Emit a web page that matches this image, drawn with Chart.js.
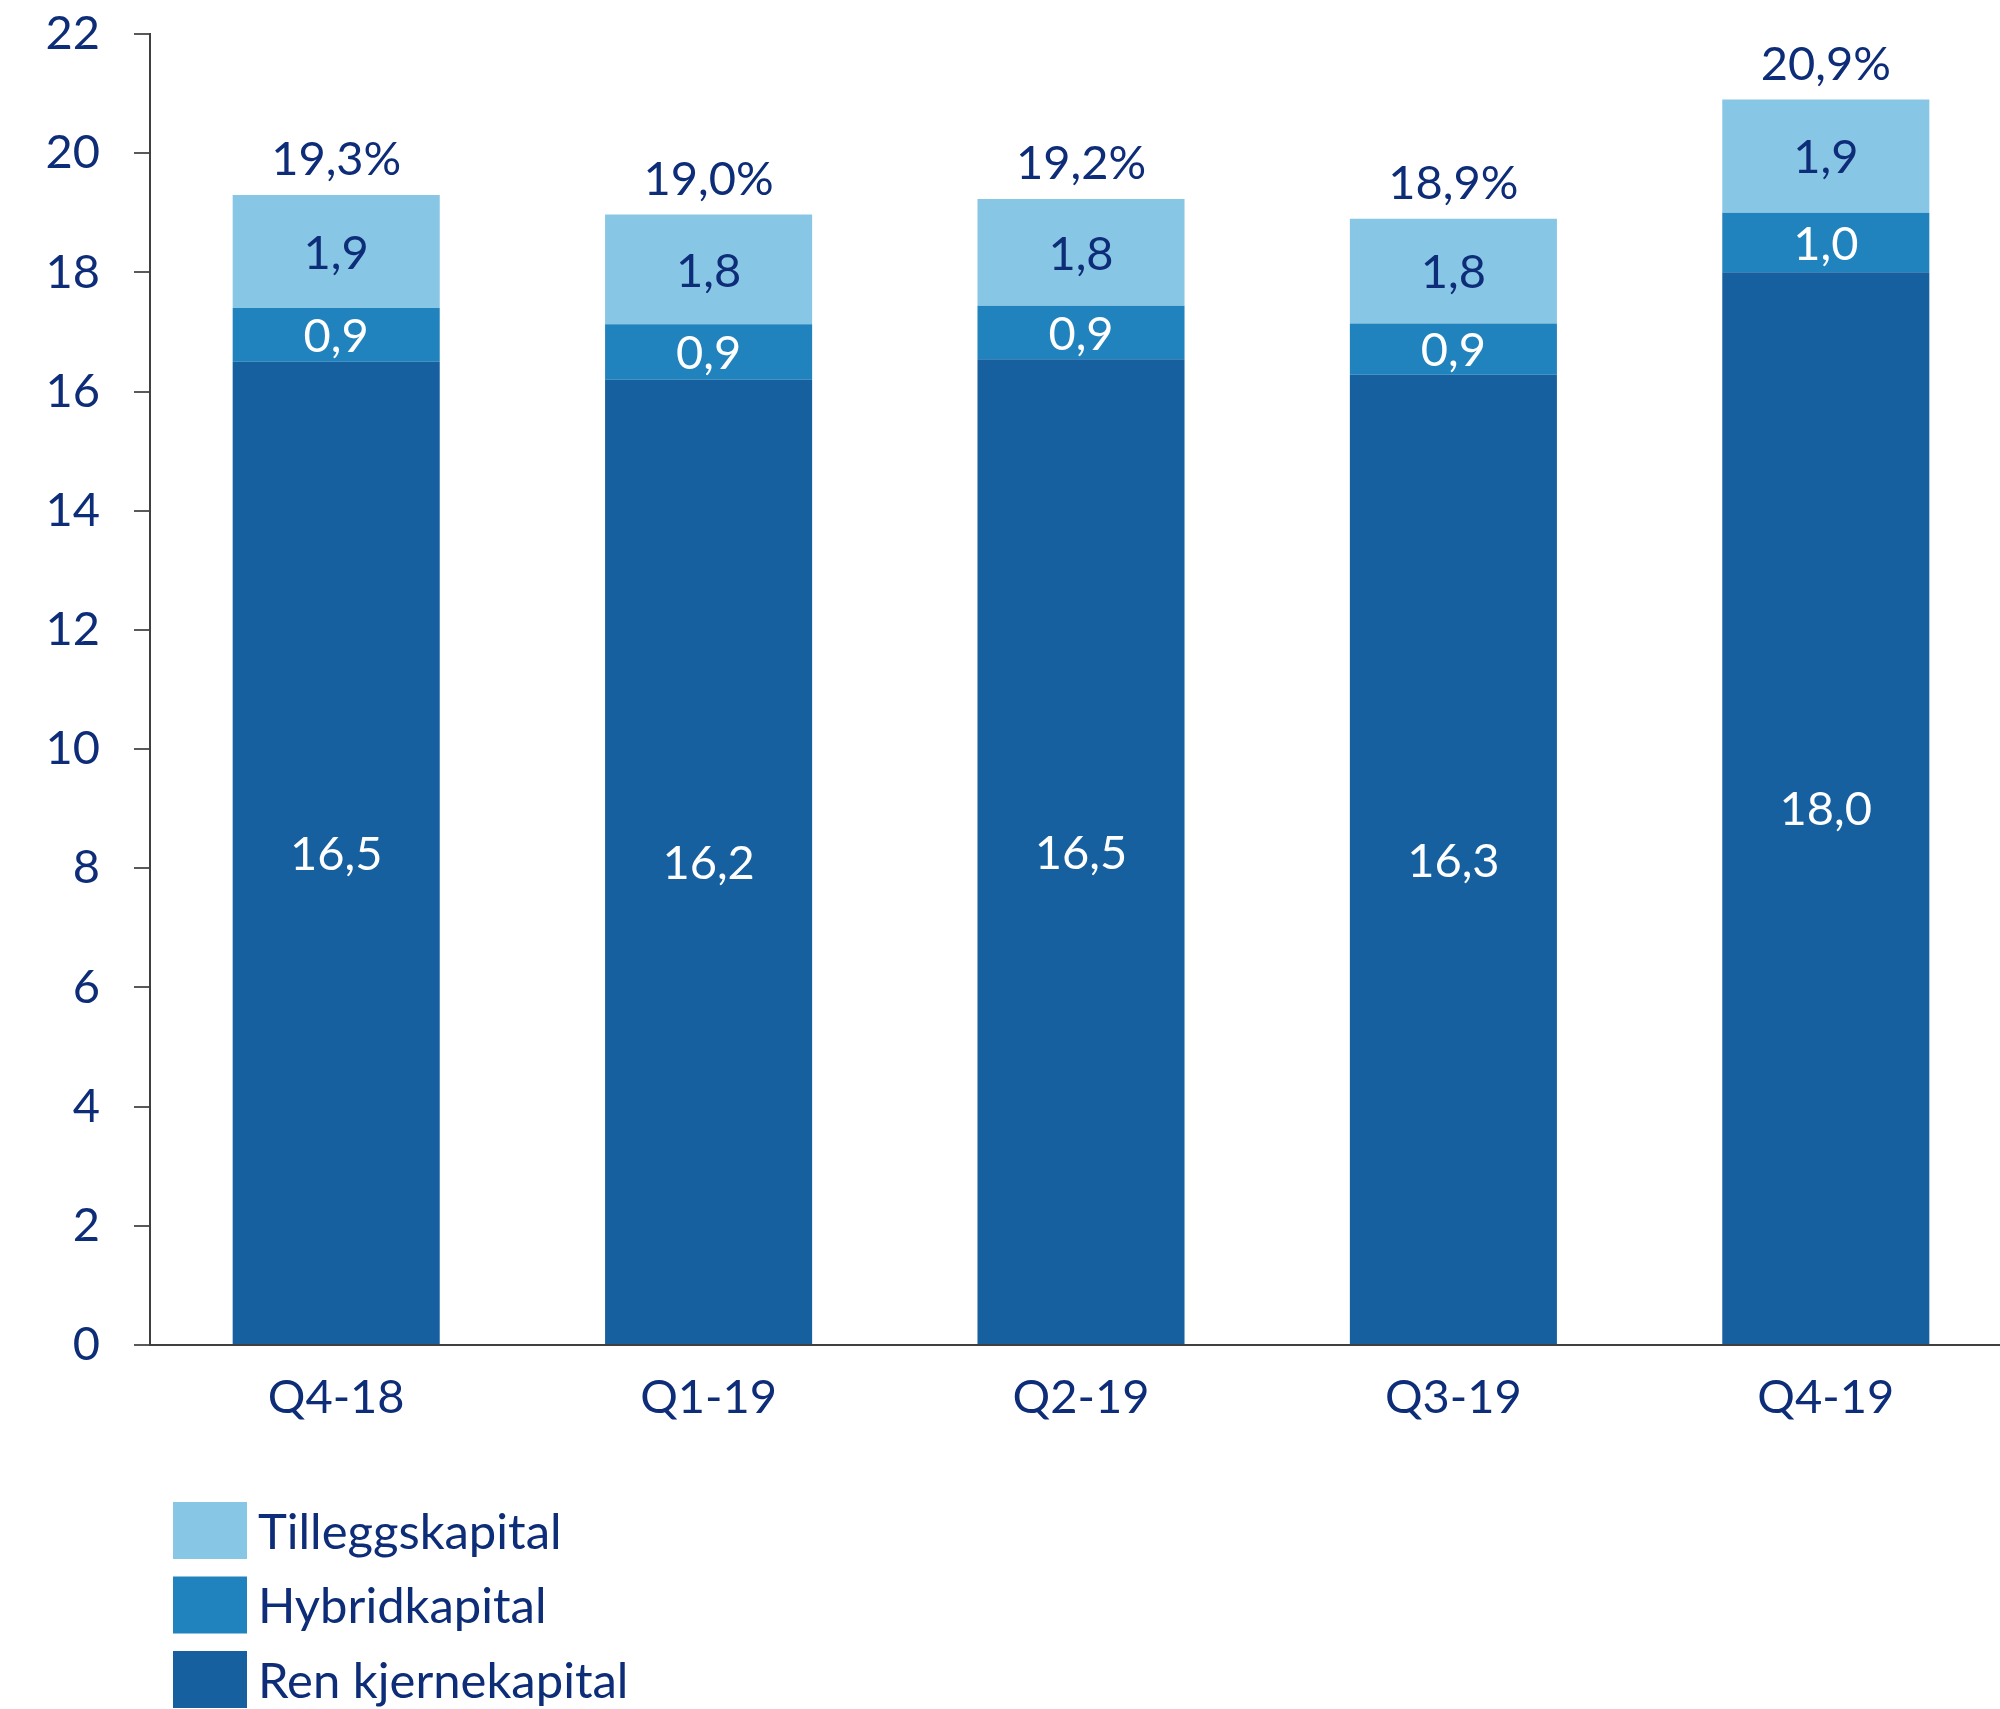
<!DOCTYPE html>
<html>
<head>
<meta charset="utf-8">
<script src="https://cdn.jsdelivr.net/npm/chart.js@4.4.1/dist/chart.umd.min.js"></script>
<style>
html,body{margin:0;padding:0;background:#fff;overflow:hidden;width:2000px;height:1709px;}
#wrap{position:absolute;left:0;top:0;width:2012px;height:1709px;}
</style>
</head>
<body>
<div id="wrap"><canvas id="c" width="2012" height="1709"></canvas></div>
<script>
const categories = ['Q4-18','Q1-19','Q2-19','Q3-19','Q4-19'];
const renKjernekapital = [16.5, 16.2, 16.54, 16.28, 18.0];
const hybridkapital   = [0.9, 0.93, 0.9, 0.86, 1.0];
const tilleggskapital = [1.9, 1.84, 1.79, 1.76, 1.9];
const yTicks = [0,2,4,6,8,10,12,14,16,18,20,22];

const NAVY = '#0E2D78';
const FONT = 'Lato';

function fmt(v){ return (Math.round(v * 10) / 10).toFixed(1).replace('.', ','); }

const labelPlugin = {
  id: 'labels',
  afterDatasetsDraw(chart){
    const ctx = chart.ctx;
    ctx.save();
    ctx.textAlign = 'center';
    ctx.textBaseline = 'middle';
    ctx.font = '47px ' + FONT;
    chart.data.datasets.forEach((ds, di) => {
      const meta = chart.getDatasetMeta(di);
      meta.data.forEach((el, i) => {
        const y = (el.y + el.base) / 2;
        ctx.fillStyle = ds.labelColor;
        ctx.fillText(fmt(ds.data[i]), el.x, y + 2);
      });
    });
    const last = chart.getDatasetMeta(chart.data.datasets.length - 1);
    last.data.forEach((el, i) => {
      let tot = 0;
      chart.data.datasets.forEach(ds => tot += ds.data[i]);
      ctx.fillStyle = NAVY;
      ctx.fillText(fmt(tot) + '%', el.x, el.y - 35);
    });
    ctx.restore();
  }
};

const legendPlugin = {
  id: 'customLegend',
  afterDraw(chart){
    const ctx = chart.ctx;
    ctx.save();
    ctx.font = '49px ' + FONT;
    ctx.textBaseline = 'middle';
    ctx.textAlign = 'left';
    const dss = chart.data.datasets.slice().reverse();
    dss.forEach((ds, k) => {
      const top = 1502 + k * 74.5;
      ctx.fillStyle = ds.backgroundColor;
      ctx.fillRect(173, top, 74, 57);
      ctx.fillStyle = NAVY;
      ctx.fillText(ds.label, 258, top + 31);
    });
    ctx.restore();
  }
};

new Chart(document.getElementById('c'), {
  type: 'bar',
  data: {
    labels: categories,
    datasets: [
      {label:'Ren kjernekapital', data: renKjernekapital, backgroundColor:'#1660A0', labelColor:'#ffffff'},
      {label:'Hybridkapital', data: hybridkapital, backgroundColor:'#2083BD', labelColor:'#ffffff'},
      {label:'Tilleggskapital', data: tilleggskapital, backgroundColor:'#88C6E5', labelColor:NAVY}
    ]
  },
  options: {
    responsive: false,
    animation: false,
    layout: { padding: { top: 34, bottom: 274, left: 0, right: 0 } },
    datasets: { bar: { categoryPercentage: 1.0, barPercentage: 0.556, borderWidth: 0 } },
    plugins: { legend: { display: false }, tooltip: { enabled: false } },
    scales: {
      x: {
        stacked: true,
        grid: { display: false },
        border: { display: true, color: '#404040', width: 2 },
        ticks: { color: NAVY, font: { family: FONT, size: 47 }, padding: 17 },
        afterFit(s){ s.height = 90; s.paddingLeft = 0; s.paddingRight = 0; }
      },
      y: {
        stacked: true,
        min: 0, max: 22,
        afterBuildTicks(s){ s.ticks = yTicks.map(v => ({value: v})); },
        grid: { drawOnChartArea: false, drawTicks: true, tickLength: 16, color: '#595959', lineWidth: 2 },
        border: { display: true, color: '#404040', width: 2 },
        ticks: { color: NAVY, font: { family: FONT, size: 47 }, padding: 34 },
        afterFit(s){ s.width = 150; s.paddingTop = 0; s.paddingBottom = 0; }
      }
    }
  },
  plugins: [labelPlugin, legendPlugin]
});
</script>
</body>
</html>
